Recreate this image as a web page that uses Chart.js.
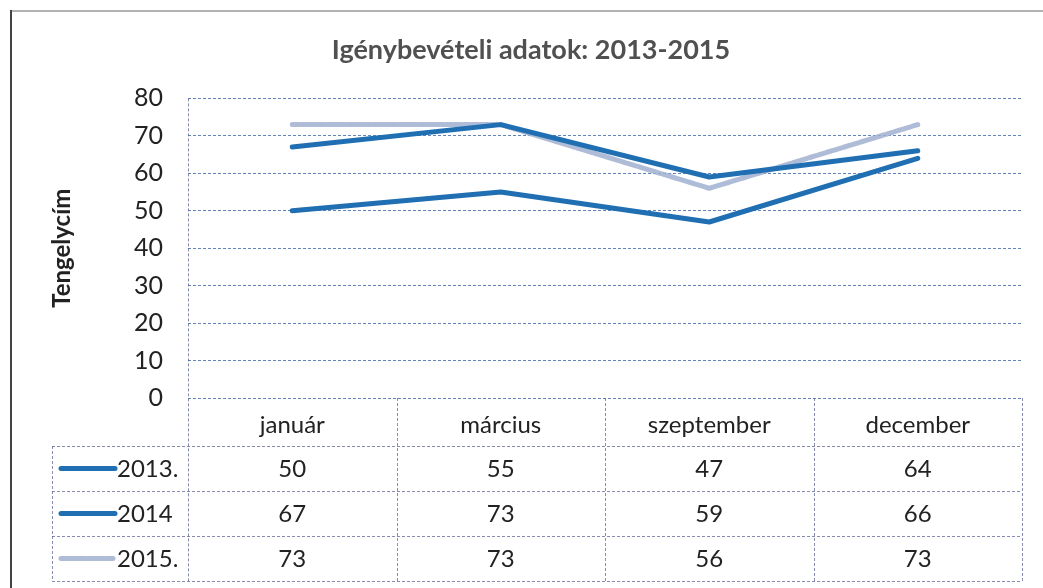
<!DOCTYPE html>
<html><head><meta charset="utf-8">
<script src="https://cdn.jsdelivr.net/npm/chart.js@4/dist/chart.umd.min.js"></script>
<style>html,body{margin:0;padding:0;background:#fff}#wrap{width:1043px;height:588px;position:relative}canvas{display:block}</style>
</head><body><div id="wrap"><canvas id="c" width="1043" height="588"></canvas></div>
<script>
const titleText = 'Igénybevételi adatok: 2013-2015';
const yAxisTitle = 'Tengelycím';
const categories = ['január', 'március', 'szeptember', 'december'];
const seriesNames = ['2013.', '2014', '2015.'];
const values2013 = [50, 55, 47, 64];
const values2014 = [67, 73, 59, 66];
const values2015 = [73, 73, 56, 73];
const yTicks = [0, 10, 20, 30, 40, 50, 60, 70, 80];

const FONT = 'Lato, "Open Sans", sans-serif';
const lineColor = '#1f6fb2';
const lightColor = 'rgba(160,176,208,0.85)';
const tableLine = 'rgba(95,100,150,0.75)';

const tablePlugin = {
  id: 'dataTable',
  afterDraw(chart) {
    const ctx = chart.ctx;
    const area = chart.chartArea;
    const xs = chart.scales.x;
    const n = categories.length;
    const colW = (area.right - area.left) / n;
    const rowTop = xs.bottom;
    const rowH = 45;
    const legendLeft = 52;
    const nRows = chart.data.datasets.length;
    const tableBottom = rowTop + nRows * rowH;
    ctx.save();
    ctx.strokeStyle = tableLine;
    ctx.lineWidth = 1;
    ctx.setLineDash([3, 2]);
    ctx.beginPath();
    ctx.moveTo(area.left + 0.5, area.top);
    ctx.lineTo(area.left + 0.5, tableBottom);
    for (let i = 1; i <= n; i++) {
      const x = Math.round(area.left + i * colW) + 0.5;
      ctx.moveTo(x, area.bottom);
      ctx.lineTo(x, tableBottom);
    }
    ctx.moveTo(legendLeft + 0.5, rowTop);
    ctx.lineTo(legendLeft + 0.5, tableBottom);
    for (let r = 0; r <= nRows; r++) {
      const y = Math.round(rowTop + r * rowH) + 0.5;
      ctx.moveTo(legendLeft, y);
      ctx.lineTo(area.right, y);
    }
    ctx.stroke();
    ctx.setLineDash([]);
    ctx.fillStyle = '#222';
    ctx.font = '24px ' + FONT;
    ctx.textBaseline = 'middle';
    chart.data.datasets.forEach((ds, r) => {
      const cy = rowTop + r * rowH + rowH / 2 + 1;
      ctx.textAlign = 'center';
      ds.data.forEach((v, i) => {
        ctx.fillText(String(v), xs.getPixelForValue(i), cy);
      });
      ctx.save();
      ctx.strokeStyle = ds.borderColor;
      ctx.lineWidth = 5;
      ctx.lineCap = 'round';
      if (ds.borderDash) ctx.setLineDash(ds.borderDash);
      ctx.beginPath();
      ctx.moveTo(61, cy - 1);
      ctx.lineTo(115, cy - 1);
      ctx.stroke();
      ctx.restore();
      ctx.textAlign = 'left';
      ctx.fillText(ds.label, 117, cy);
    });
    // outer frame
    ctx.lineWidth = 1.5;
    ctx.strokeStyle = 'rgba(110,110,110,0.7)';
    ctx.beginPath();
    ctx.moveTo(10, 11);
    ctx.lineTo(1043, 11);
    ctx.stroke();
    ctx.lineWidth = 2;
    ctx.strokeStyle = '#444';
    ctx.beginPath();
    ctx.moveTo(11, 10);
    ctx.lineTo(11, 588);
    ctx.stroke();
    ctx.restore();
  }
};

new Chart(document.getElementById('c'), {
  type: 'line',
  data: {
    labels: categories,
    datasets: [
      { label: seriesNames[0], data: values2013, borderColor: lineColor, borderWidth: 5 },
      { label: seriesNames[1], data: values2014, borderColor: lineColor, borderWidth: 5 },
      { label: seriesNames[2], data: values2015, borderColor: lightColor, borderWidth: 5, borderDash: [7, 2] }
    ]
  },
  options: {
    responsive: false,
    animation: false,
    devicePixelRatio: 1,
    elements: { point: { radius: 0 }, line: { tension: 0, borderCapStyle: 'round', borderJoinStyle: 'round' } },
    layout: { padding: { left: 40, right: 21, top: 0, bottom: 142 } },
    plugins: {
      legend: { display: false },
      tooltip: { enabled: false },
      title: {
        display: true, text: titleText, color: '#505050',
        font: { family: FONT, size: 27, weight: 'bold' },
        padding: { top: 34, bottom: 32 }
      }
    },
    scales: {
      x: {
        offset: true,
        grid: { display: false },
        border: { display: false },
        ticks: { color: '#222', font: { family: FONT, size: 24 }, padding: 5, maxRotation: 0 },
        afterFit(s) { s.height = 48; }
      },
      y: {
        min: 0, max: 80,
        afterBuildTicks(s) { s.ticks = yTicks.map(v => ({ value: v })); },
        grid: { color: 'rgba(60,100,170,0.8)', lineWidth: 1, drawTicks: false },
        border: { display: false, dash: [3, 2] },
        ticks: { color: '#222', font: { family: FONT, size: 25 }, padding: 25 },
        title: {
          display: true, text: yAxisTitle, color: '#222',
          font: { family: FONT, size: 24, weight: 'bold' },
          padding: { top: 8, bottom: 0 }
        },
        afterFit(s) { s.width = 148; }
      }
    }
  },
  plugins: [tablePlugin]
});
</script>
</body></html>
